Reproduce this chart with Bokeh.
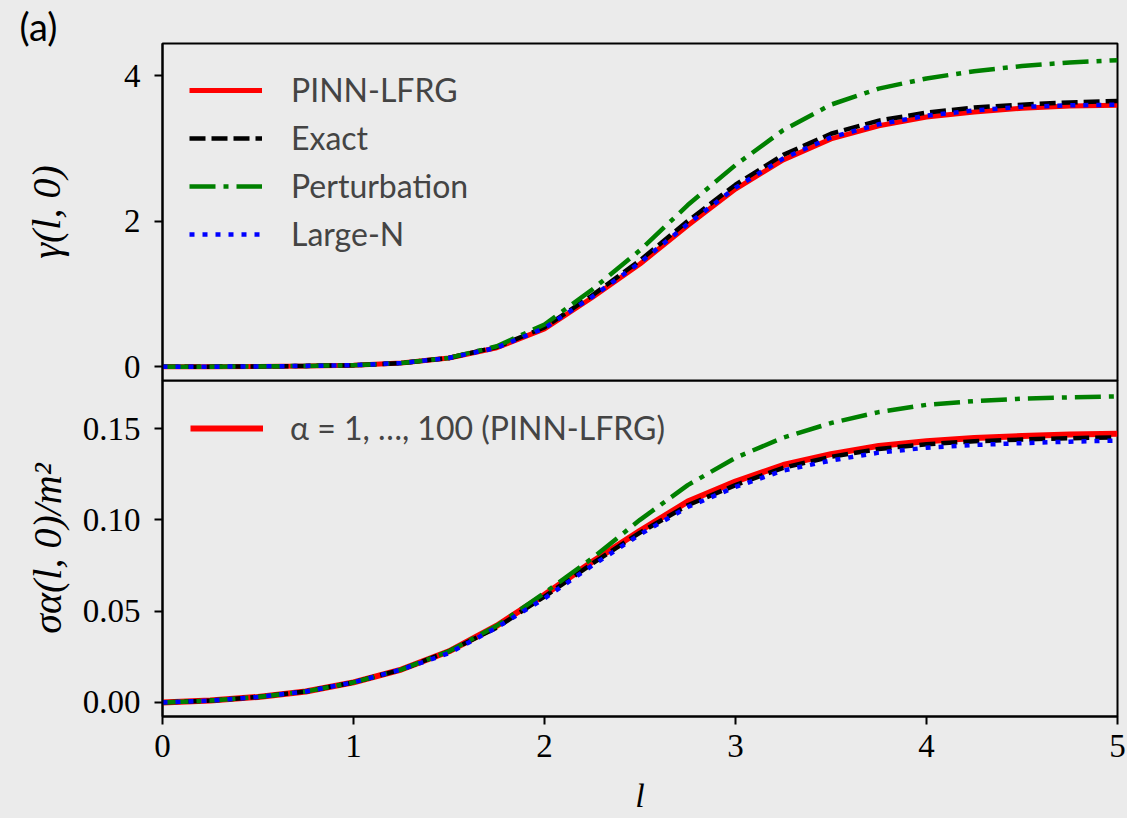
from bokeh.plotting import figure
from bokeh.layouts import column
from bokeh.models import Legend, LegendItem, FixedTicker, NumeralTickFormatter, Range1d
from bokeh.embed import file_html
from bokeh.resources import INLINE

# ---- data ----
l_vals = [0.0, 0.25, 0.5, 0.75, 1.0, 1.25, 1.5, 1.75, 2.0, 2.25, 2.5,
          2.75, 3.0, 3.25, 3.5, 3.75, 4.0, 4.25, 4.5, 4.75, 5.0]

gamma_pinn = [0.0, 0.0, 0.003, 0.01, 0.02, 0.05, 0.12, 0.26, 0.52, 0.95, 1.41,
              1.94, 2.44, 2.84, 3.13, 3.31, 3.43, 3.50, 3.55, 3.58, 3.59]
gamma_exact = [0.0, 0.0, 0.003, 0.01, 0.02, 0.05, 0.12, 0.27, 0.54, 0.98, 1.46,
               2.00, 2.50, 2.91, 3.20, 3.38, 3.49, 3.56, 3.60, 3.63, 3.65]
gamma_pert = [0.0, 0.0, 0.003, 0.01, 0.02, 0.05, 0.12, 0.28, 0.58, 1.06, 1.60,
              2.22, 2.77, 3.25, 3.60, 3.82, 3.96, 4.06, 4.13, 4.18, 4.21]
gamma_largeN = [0.0, 0.0, 0.003, 0.01, 0.02, 0.05, 0.12, 0.26, 0.53, 0.96, 1.43,
                1.96, 2.46, 2.86, 3.15, 3.33, 3.45, 3.52, 3.57, 3.59, 3.60]

sigma_pinn = [0.0, 0.001, 0.003, 0.006, 0.011, 0.018, 0.028, 0.042, 0.059, 0.077, 0.094,
              0.110, 0.121, 0.130, 0.136, 0.1405, 0.143, 0.1448, 0.1459, 0.1467, 0.1472]
sigma_exact = [0.0, 0.001, 0.003, 0.006, 0.011, 0.018, 0.028, 0.041, 0.058, 0.076, 0.093,
               0.108, 0.119, 0.1285, 0.1345, 0.1388, 0.1414, 0.1430, 0.1440, 0.1447, 0.1452]
sigma_pert = [0.0, 0.001, 0.003, 0.006, 0.011, 0.018, 0.028, 0.042, 0.060, 0.079, 0.100,
              0.119, 0.134, 0.145, 0.153, 0.159, 0.163, 0.1650, 0.1663, 0.1671, 0.1676]
sigma_largeN = [0.0, 0.001, 0.003, 0.006, 0.011, 0.018, 0.027, 0.041, 0.057, 0.075, 0.092,
                0.107, 0.118, 0.127, 0.1325, 0.1368, 0.1395, 0.1410, 0.1420, 0.1428, 0.1434]

series_labels = ["PINN-LFRG", "Exact", "Perturbation", "Large-N"]
bottom_label = "\u03b1 = 1, \u2026, 100 (PINN-LFRG)"
top_yticks = [0, 2, 4]
bottom_yticks = [0.0, 0.05, 0.10, 0.15]
xticks = [0, 1, 2, 3, 4, 5]

BG = "#ebebeb"
SERIF = "Liberation Serif"
SANS = "Lato"
OVERLAP = 16


def style(p):
    p.background_fill_color = BG
    p.border_fill_color = BG
    p.outline_line_color = "black"
    p.outline_line_width = 2
    p.xgrid.visible = False
    p.ygrid.visible = False
    for ax in p.axis:
        ax.axis_line_color = "black"
        ax.axis_line_width = 2
        ax.major_tick_line_color = "black"
        ax.major_tick_line_width = 2
        ax.major_tick_out = 8
        ax.major_tick_in = 0
        ax.minor_tick_line_color = None
        ax.major_label_text_font = SERIF
        ax.major_label_text_font_size = "33px"
        ax.major_label_text_color = "black"
        ax.axis_label_text_font = SERIF
        ax.axis_label_text_font_size = "40px"
        ax.axis_label_text_color = "black"
        ax.axis_label_text_font_style = "italic"


p1 = figure(width=1127, height=380 + OVERLAP, x_range=Range1d(0, 5), y_range=Range1d(-0.19, 4.44),
            output_backend="svg", toolbar_location=None,
            min_border_left=162, min_border_right=10, min_border_top=43,
            min_border_bottom=OVERLAP)
style(p1)
p1.border_fill_alpha = 0
p1.styles = {"z-index": "1"}
p1.xaxis.visible = False
p1.yaxis.ticker = FixedTicker(ticks=top_yticks)
p1.yaxis.axis_label = "\u03b3(l, 0)"
p1.yaxis.major_label_standoff = 14
p1.yaxis.axis_label_standoff = 52

p1.title.text = "(a)"
p1.title.align = "left"
p1.title.offset = -143
p1.title.standoff = -10
p1.title.text_font = SANS
p1.title.text_font_size = "38px"
p1.title.text_font_style = "normal"
p1.title.text_color = "black"

r_pinn = p1.line(l_vals, gamma_pinn, line_color="red", line_width=5)
r_exact = p1.line(l_vals, gamma_exact, line_color="black", line_width=4.5, line_dash="16 6")
r_pert = p1.line(l_vals, gamma_pert, line_color="green", line_width=4.5, line_dash="26 8 5 8")
r_ln = p1.line(l_vals, gamma_largeN, line_color="blue", line_width=4.5, line_dash="5 8")

leg1 = Legend(items=[LegendItem(label=series_labels[0], renderers=[r_pinn]),
                     LegendItem(label=series_labels[1], renderers=[r_exact]),
                     LegendItem(label=series_labels[2], renderers=[r_pert]),
                     LegendItem(label=series_labels[3], renderers=[r_ln])],
              location="top_left", background_fill_alpha=0, border_line_alpha=0,
              label_text_font=SANS, label_text_font_size="32px",
              glyph_width=73, glyph_height=30, label_height=30, spacing=9,
              label_standoff=29, padding=10, margin=17)
p1.add_layout(leg1)

p2 = figure(width=1127, height=438, x_range=p1.x_range, y_range=Range1d(-0.0077, 0.1763),
            output_backend="svg", toolbar_location=None,
            min_border_left=162, min_border_right=10, min_border_top=0, min_border_bottom=102)
style(p2)
p2.margin = (-OVERLAP, 0, 0, 0)
p2.xaxis.ticker = FixedTicker(ticks=xticks)
p2.yaxis.ticker = FixedTicker(ticks=bottom_yticks)
p2.yaxis.formatter = NumeralTickFormatter(format="0.00")
p2.xaxis.axis_label = "l"
p2.xaxis.axis_label_text_font_size = "34px"
p2.yaxis.axis_label = "\u03c3\u03b1(l, 0)/m\u00b2"
p2.yaxis.major_label_standoff = 14
p2.yaxis.axis_label_standoff = 10
p2.xaxis.major_label_standoff = 10
p2.xaxis.axis_label_standoff = 17

b_pinn = p2.line(l_vals, sigma_pinn, line_color="red", line_width=6)
p2.line(l_vals, sigma_exact, line_color="black", line_width=4.5, line_dash="16 6")
p2.line(l_vals, sigma_pert, line_color="green", line_width=4.5, line_dash="26 8 5 8")
p2.line(l_vals, sigma_largeN, line_color="blue", line_width=4.5, line_dash="5 8")

leg2 = Legend(items=[LegendItem(label=bottom_label, renderers=[b_pinn])],
              location="top_left", background_fill_alpha=0, border_line_alpha=0,
              label_text_font=SANS, label_text_font_size="32px",
              glyph_width=73, glyph_height=34, label_height=34, spacing=10,
              label_standoff=27, padding=10, margin=18)
p2.add_layout(leg2)

layout = column(p1, p2, spacing=0)
layout.background = BG
layout.styles = {"background-color": BG}
open("out.html", "w").write(file_html(layout, INLINE))
